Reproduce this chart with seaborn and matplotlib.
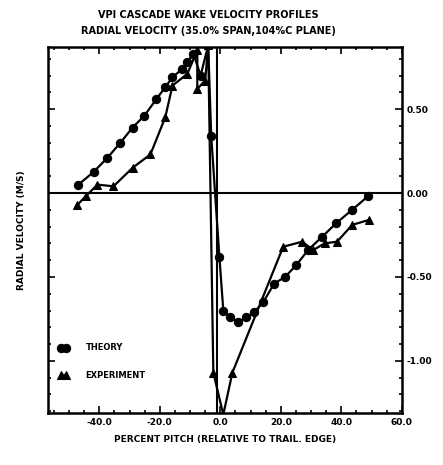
import numpy as np
import pandas as pd
import seaborn as sns
import matplotlib
matplotlib.use("Agg")
import matplotlib.pyplot as plt
from matplotlib.ticker import MultipleLocator, FormatStrFormatter

# theory (circles)
theory_x = [-46.9, -41.9, -37.3, -33.0, -29.0, -25.1, -21.1, -18.2, -15.8, -12.5,
            -10.9, -8.9, -6.5, -4.0, -3.0, -0.3, 1.0, 3.3, 5.9, 8.6,
            11.2, 14.2, 17.8, 21.4, 25.1, 29.0, 33.7, 38.3, 43.6, 48.8]
theory_y = [0.05, 0.125, 0.21, 0.30, 0.39, 0.46, 0.56, 0.63, 0.69, 0.74,
            0.78, 0.83, 0.70, 0.88, 0.34, -0.38, -0.70, -0.74, -0.77, -0.74,
            -0.71, -0.65, -0.54, -0.50, -0.43, -0.34, -0.26, -0.18, -0.10, -0.02]

# experiment (triangles)
exp_x = [-47.2, -44.5, -40.6, -35.3, -29.0, -23.1, -18.2, -15.8, -10.9, -7.6,
         -7.6, -5.0, -4.0, -2.3, 1.0, 4.0, 20.8, 27.1,
         30.7, 34.5, 38.6, 43.6, 49.2]
exp_y = [-0.07, -0.02, 0.05, 0.04, 0.15, 0.23, 0.45, 0.64, 0.71, 0.85,
         0.62, 0.67, 0.88, -1.07, -1.32, -1.07, -0.32, -0.29,
         -0.34, -0.30, -0.29, -0.19, -0.16]

sns.set_style("ticks")
plt.rcParams['font.family'] = ['DejaVu Sans']
plt.rcParams['axes.unicode_minus'] = False
plt.rcParams['text.color'] = 'black'
plt.rcParams['axes.labelcolor'] = 'black'
plt.rcParams['xtick.color'] = 'black'
plt.rcParams['ytick.color'] = 'black'
plt.rcParams['axes.edgecolor'] = 'black'

fig = plt.figure(figsize=(4.43, 4.65), dpi=100)
ax = fig.add_axes([0.108, 0.112, 0.799, 0.787])

ax.axhline(0, color='black', lw=1.5, zorder=1)
ax.axvline(-1, color='black', lw=1.5, zorder=1)

sns.lineplot(x=theory_x, y=theory_y, sort=False, estimator=None, color='black',
             marker='o', markersize=6, markeredgecolor='black', lw=1.6,
             label='THEORY', ax=ax)
sns.lineplot(x=exp_x, y=exp_y, sort=False, estimator=None, color='black',
             marker='^', markersize=6, markeredgecolor='black', lw=1.6,
             label='EXPERIMENT', ax=ax)

ax.set_xlim(-57, 60)
ax.set_ylim(-1.31, 0.87)

ax.xaxis.set_major_locator(MultipleLocator(20))
ax.xaxis.set_minor_locator(MultipleLocator(5))
ax.yaxis.set_major_locator(MultipleLocator(0.5))
ax.yaxis.set_minor_locator(MultipleLocator(0.1))
ax.xaxis.set_major_formatter(FormatStrFormatter('%.1f'))
ax.yaxis.set_major_formatter(FormatStrFormatter('%.2f'))

ax.tick_params(which='both', direction='in', top=True, bottom=True, left=True, right=True,
               labelleft=False, labelright=True, width=1.2)
ax.tick_params(which='major', length=5, labelsize=6.5)
ax.tick_params(which='minor', length=2.5)
for lab in ax.get_xticklabels() + ax.get_yticklabels():
    lab.set_fontweight('heavy')

for s in ax.spines.values():
    s.set_linewidth(1.8)
    s.set_visible(True)

ax.set_xlabel('PERCENT PITCH (RELATIVE TO TRAIL. EDGE)', fontsize=6.5, fontweight='heavy', labelpad=6)
ax.set_ylabel('RADIAL VELOCITY (M/S)', fontsize=6.5, fontweight='heavy', labelpad=16)
fig.text(0.47, 0.968, 'VPI CASCADE WAKE VELOCITY PROFILES', ha='center', va='center',
         fontsize=7, fontweight='heavy')
fig.text(0.47, 0.933, 'RADIAL VELOCITY (35.0% SPAN,104%C PLANE)', ha='center', va='center',
         fontsize=7, fontweight='heavy')

leg = ax.legend(loc='lower left', bbox_to_anchor=(0.01, 0.07), frameon=False, numpoints=2,
                handlelength=1.2, handletextpad=2.0, labelspacing=2.2,
                prop={'size': 6, 'weight': 'heavy'})

fig.savefig('out.png', dpi=100)
